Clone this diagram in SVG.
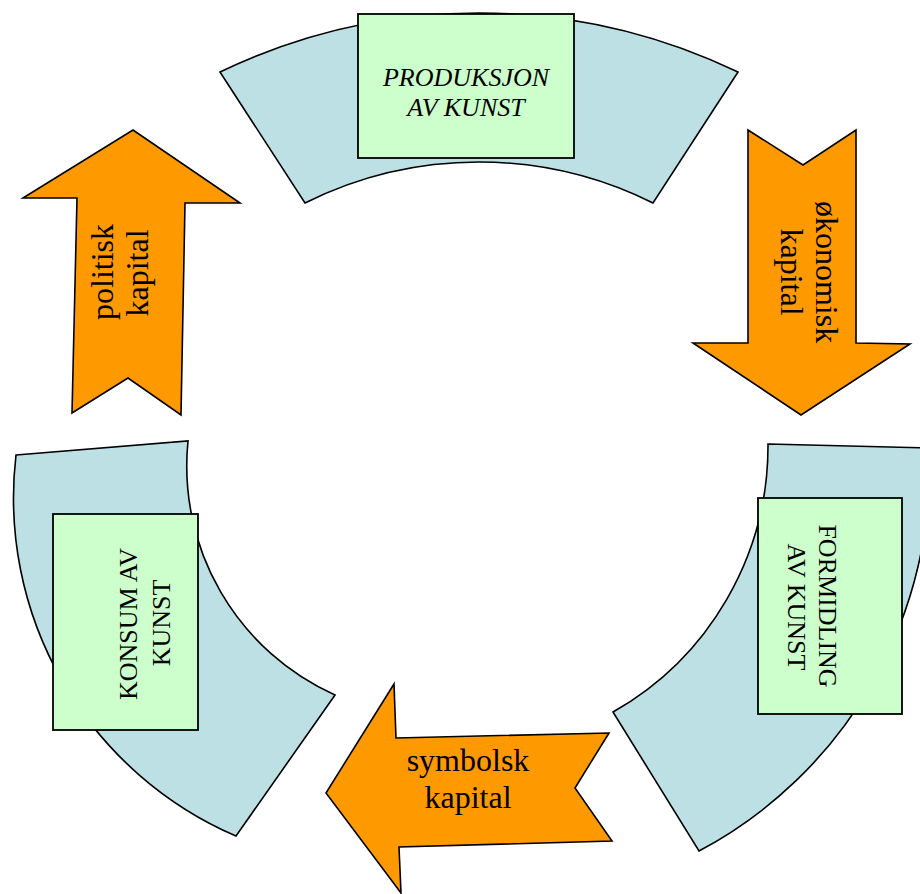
<svg xmlns="http://www.w3.org/2000/svg" width="920" height="894" viewBox="0 0 920 894">
<style>
.arc{fill:#BCE0E4;stroke:#000;stroke-width:1.6;stroke-linejoin:miter}
.box{fill:#CCFFCC;stroke:#000;stroke-width:1.8}
.arrow{fill:#FF9900;stroke:#000;stroke-width:1.6;stroke-linejoin:miter}
.bt{font-family:"Liberation Serif","Times New Roman",serif;font-size:26px;fill:#000;text-anchor:middle}
.at{font-family:"Liberation Serif","Times New Roman",serif;font-size:32px;fill:#000;text-anchor:middle}
</style>
<rect width="920" height="894" fill="#fff"/>
<g id="produksjon">
<path class="arc" d="M220,72 A598,598 0 0,1 738,72 L653,203 A390,390 0 0,0 305,203 Z"/>
<rect class="box" x="358" y="14" width="216" height="144"/>
<text class="bt" font-style="italic" x="466" y="86">PRODUKSJON</text>
<text class="bt" font-style="italic" x="466" y="116">AV KUNST</text>
</g>
<g id="formidling">
<path class="arc" d="M768,444 L929,448 A434,434 0 0,1 699,851 L613,712 A306,306 0 0,0 768,444 Z"/>
<rect class="box" x="758" y="498" width="144" height="216"/>
<text class="bt" transform="translate(819,606) rotate(90)">FORMIDLING</text>
<text class="bt" transform="translate(788,607) rotate(90)">AV KUNST</text>
</g>
<g id="konsum">
<path class="arc" d="M16,455 L188,441 A251,251 0 0,0 335,695 L236,836 A368,368 0 0,1 16,455 Z"/>
<rect class="box" x="53" y="514" width="145" height="216"/>
<text class="bt" transform="translate(137,624) rotate(-90)">KONSUM AV</text>
<text class="bt" transform="translate(170,623) rotate(-90)">KUNST</text>
</g>
<g id="connectors">
<g id="okonomisk">
<polygon class="arrow" points="748,130 803,165 856,130 856,343 910,344 801,415 693,343 748,343"/>
<text class="at" transform="translate(816,272) rotate(90)">økonomisk</text>
<text class="at" transform="translate(781,272) rotate(90)">kapital</text>
</g>
<g id="symbolsk">
<polygon class="arrow" points="326,793 394,684 396,738 609,733 575,788 612,841 399,847 401,893"/>
<text class="at" x="468" y="771">symbolsk</text>
<text class="at" x="468" y="808">kapital</text>
</g>
<g id="politisk">
<polygon class="arrow" points="23,198 133,130 240,203 185,203 181,415 128,378 72,413 77,198"/>
<text class="at" transform="translate(113,272) rotate(-90)">politisk</text>
<text class="at" transform="translate(148,273) rotate(-90)">kapital</text>
</g>
</g>
</svg>
